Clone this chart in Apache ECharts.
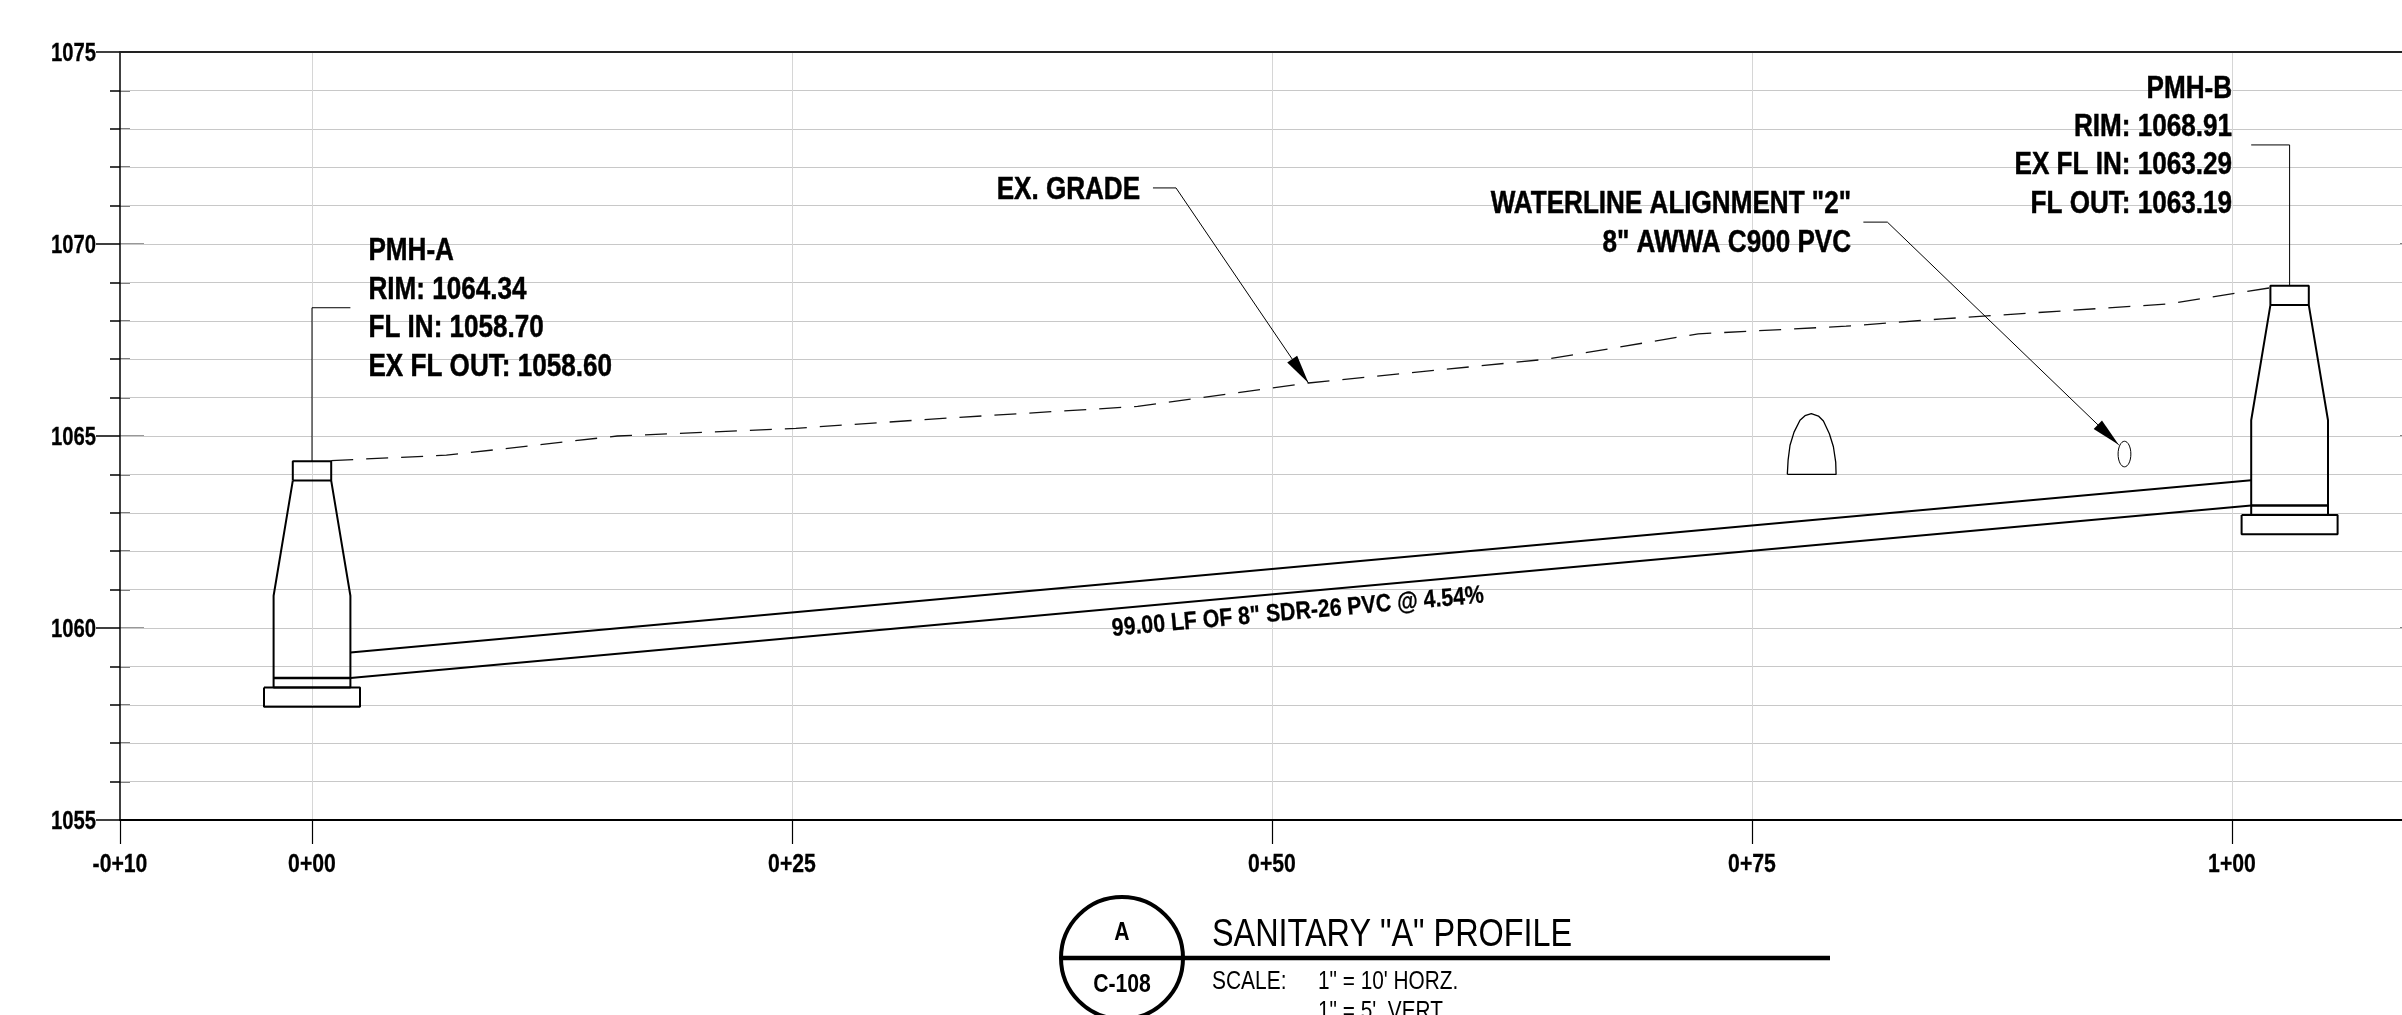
<!DOCTYPE html>
<html><head><meta charset="utf-8">
<style>html,body{margin:0;padding:0;background:#fff;overflow:hidden}#c{width:2402px;height:1015px}</style>
<script src="https://cdn.jsdelivr.net/npm/echarts@6/dist/echarts.min.js"></script>
</head><body><div id="c"></div>
<script>
// Axis values
var stationTicks = [-10, 0, 25, 50, 75, 100];
var stationLabels = ['-0+10', '0+00', '0+25', '0+50', '0+75', '1+00'];
var stationGrid = [0, 25, 50, 75, 100];
var elevationLabels = [1055, 1060, 1065, 1070, 1075];

// Existing grade (station, elevation)
var exGrade = [[1,1064.36],[7,1064.5],[15.9,1065.0],[25.2,1065.2],[33.2,1065.47],[43,1065.77],[51.9,1066.38],[64.3,1067.0],[72.2,1067.66],[79.9,1067.86],[84.9,1068.05],[96.7,1068.44],[102,1068.86]];
// Sewer pipe
var pipeCrown = [[2,1059.36],[101,1063.85]];
var pipeInvert = [[2,1058.7],[101,1063.19]];
// Manhole A
var mhAFrame = [[-1,1063.84],[-1,1064.34],[1,1064.34],[1,1063.84],[-1,1063.84]];
var mhABody = [[-1,1063.84],[-2,1060.84],[-2,1058.45],[2,1058.45],[2,1060.84],[1,1063.84]];
var mhAFlow = [[-2,1058.7],[2,1058.7]];
var mhABase = [[-2.5,1058.45],[2.5,1058.45],[2.5,1057.95],[-2.5,1057.95],[-2.5,1058.45]];
// Manhole B
var mhBFrame = [[102,1068.41],[102,1068.91],[104,1068.91],[104,1068.41],[102,1068.41]];
var mhBBody = [[102,1068.41],[101,1065.41],[101,1062.94],[105,1062.94],[105,1065.41],[104,1068.41]];
var mhBFlow = [[101,1063.19],[105,1063.19]];
var mhBBase = [[100.5,1062.94],[105.5,1062.94],[105.5,1062.44],[100.5,1062.44],[100.5,1062.94]];
// Crossing storm arch
var archShape = [[76.84,1064.0],[76.88,1064.37],[76.98,1064.76],[77.19,1065.1],[77.5,1065.41],[77.76,1065.53],[78.09,1065.58],[78.46,1065.52],[78.72,1065.39],[79.03,1065.06],[79.24,1064.72],[79.36,1064.32],[79.38,1064.0],[76.84,1064.0]];
// Waterline crossing: station, elevation, radius in feet
var waterline = [[94.4,1064.53,0.333]];
// Leaders
var leaderA = [[0,1064.34],[0,1068.34],[2,1068.34]];
var leaderB = [[103,1068.91],[103,1072.58],[101,1072.58]];
var leaderGrade = [[43.8,1071.46],[45,1071.46],[51.9,1066.38]];
var leaderWater = [[80.8,1070.57],[82.05,1070.57],[94.1,1064.77]];
// Arrow heads: tip station, tip elevation, from station, from elevation
var arrows = [[51.9,1066.38,45,1071.46],[94.1,1064.77,82.05,1070.57]];
// Notes: station, elevation, text, align
var notes = [
  [2.94,1068.34,'PMH-A\nRIM: 1064.34\nFL IN: 1058.70\nEX FL OUT: 1058.60','left'],
  [100,1072.58,'PMH-B\nRIM: 1068.91\nEX FL IN: 1063.29\nFL OUT: 1063.19','right'],
  [43.13,1071.44,'EX. GRADE','right'],
  [80.16,1070.57,'WATERLINE ALIGNMENT "2"\n8" AWWA C900 PVC','right']
];
// Blank areas behind notes: from station, top elevation, to station, bottom elevation
var noteMasks = [[2.4,1070.3,16.15,1066.5],[88.33,1074.72,100.6,1070.47],[35.29,1072.2,43.75,1070.8],[60.86,1071.69,80.78,1069.45]];
var pipeNote = [[51.35,1060.41,'99.00 LF OF 8" SDR-26 PVC @ 4.54%']];

var FONT = '"Liberation Sans",Arial,sans-serif';
var chart = echarts.init(document.getElementById('c'), null, {renderer:'canvas'});

function lineS(data, w, extra){
  return Object.assign({type:'line',data:data,showSymbol:false,symbol:'none',silent:true,animation:false,z:4,
    lineStyle:{color:'#000',width:w}},extra||{});
}
var hide = {show:false};
var option = {
  animation:false,
  backgroundColor:'#fff',
  grid:{left:120,top:52,width:2304,height:768,containLabel:false,outerBoundsMode:'none'},
  xAxis:[
    {type:'value',min:-10,max:110,interval:5,position:'bottom',z:3,
     axisLine:{onZero:false,lineStyle:{color:'#000',width:2}},
     axisTick:{show:true,length:24,customValues:stationTicks,lineStyle:{color:'#000',width:1.2}},
     axisLabel:hide,
     splitLine:{show:false}},
    {type:'value',min:-10,max:110,interval:5,position:'bottom',z:1,
     axisLine:{show:false,onZero:false},
     axisTick:{show:true,inside:true,length:25,customValues:stationGrid,lineStyle:{color:'#555',width:1}},
     axisLabel:hide,splitLine:hide},
    {type:'value',min:-10,max:110,interval:5,position:'top',z:3,
     axisLine:{show:true,onZero:false,lineStyle:{color:'#222',width:2}},
     axisTick:{show:false,customValues:stationGrid},axisLabel:hide,
     splitLine:{show:true,lineStyle:{color:'#d6d6d6',width:1}}}
  ],
  yAxis:[
    {type:'value',min:1055,max:1075,interval:5,position:'left',z:2,
     axisLine:{show:true,onZero:false,lineStyle:{color:'#000',width:1.5}},
     axisTick:{show:true,length:24,lineStyle:{color:'#000',width:1.5}},
     minorTick:{show:true,splitNumber:5,length:10,lineStyle:{color:'#000',width:1.5}},
     axisLabel:hide,
     splitLine:{show:true,lineStyle:{color:'#c8c8c8',width:1.2}},
     minorSplitLine:{show:true,lineStyle:{color:'#c8c8c8',width:1.2}}},
    {type:'value',min:1055,max:1075,interval:5,position:'left',z:1,
     axisLine:{show:false,onZero:false},
     axisTick:{show:true,inside:true,length:24,lineStyle:{color:'#777',width:1.5}},
     minorTick:{show:true,splitNumber:5,length:10,lineStyle:{color:'#555',width:1.5}},
     axisLabel:hide,splitLine:hide},
    {type:'value',min:1055,max:1075,interval:5,position:'right',z:1,
     axisLine:{show:false,onZero:false},
     axisTick:{show:true,inside:true,length:24,lineStyle:{color:'#555',width:1.5}},
     axisLabel:hide,splitLine:hide}
  ],
  series:[
    {type:'custom',silent:true,z:1,data:noteMasks,coordinateSystem:'cartesian2d',encode:{x:[0,2],y:[1,3]},
     renderItem:function(p,api){
       var a=api.coord([api.value(0),api.value(1)]),b=api.coord([api.value(2),api.value(3)]);
       return {type:'rect',shape:{x:a[0],y:a[1],width:b[0]-a[0],height:b[1]-a[1]},style:{fill:'#fff'}};
     }},
    lineS(exGrade,1.2,{lineStyle:{color:'#111',width:1.3,type:[22,13]}}),
    lineS(pipeCrown,2),lineS(pipeInvert,2),
    lineS(mhAFrame,2),lineS(mhABody,2),lineS(mhAFlow,2.5),lineS(mhABase,2),
    lineS(mhBFrame,2),lineS(mhBBody,2),lineS(mhBFlow,2.5),lineS(mhBBase,2),
    lineS(archShape,1.3),
    lineS(leaderA,1),lineS(leaderB,1),lineS(leaderGrade,1),lineS(leaderWater,1),
    {type:'custom',silent:true,z:5,data:waterline,encode:{x:0,y:1},
     renderItem:function(p,api){
       var c=api.coord([api.value(0),api.value(1)]),r=api.size([api.value(2),api.value(2)]);
       return {type:'ellipse',shape:{cx:c[0],cy:c[1],rx:r[0],ry:r[1]},style:{fill:'#fff',stroke:'#000',lineWidth:1}};
     }},
    {type:'custom',silent:true,z:5,data:arrows,encode:{x:0,y:1},
     renderItem:function(p,api){
       var t=api.coord([api.value(0),api.value(1)]),f=api.coord([api.value(2),api.value(3)]);
       var dx=f[0]-t[0],dy=f[1]-t[1],L=Math.sqrt(dx*dx+dy*dy);dx/=L;dy/=L;
       var bx=t[0]+dx*29,by=t[1]+dy*29;
       return {type:'polygon',shape:{points:[t,[bx-dy*6,by+dx*6],[bx+dy*6,by-dx*6]]},style:{fill:'#000'}};
     }},
    {type:'custom',silent:true,z:6,data:notes.map(function(n){return [n[0],n[1]];}),encode:{x:0,y:1},
     renderItem:function(p,api){
       var n=notes[p.dataIndex],c=api.coord([n[0],n[1]]);
       return {type:'text',x:c[0],y:c[1]+1.5,scaleX:0.815,style:{text:n[2],align:n[3],verticalAlign:'middle',lineHeight:38.4,
         fontFamily:FONT,fontWeight:'bold',fontSize:32,fill:'#000',stroke:'#000',lineWidth:0.5}};
     }},
    {type:'custom',silent:true,z:6,data:pipeNote.map(function(n){return [n[0],n[1]];}),encode:{x:0,y:1},
     renderItem:function(p,api){
       var n=pipeNote[p.dataIndex],c=api.coord([n[0],n[1]]);
       return {type:'text',x:c[0],y:c[1],rotation:5.15*Math.PI/180,scaleX:0.853,style:{text:n[2],align:'center',verticalAlign:'middle',
         fontFamily:FONT,fontWeight:'bold',fontSize:25,fill:'#000',stroke:'#000',lineWidth:0.3}};
     }},
    // Elevation tick labels
    {type:'custom',silent:true,z:6,data:elevationLabels.map(function(v){return [-10,v];}),encode:{x:0,y:1},
     renderItem:function(p,api){
       var c=api.coord([api.value(0),api.value(1)]);
       return {type:'text',x:c[0]-24,y:c[1]+1.5,scaleX:0.765,style:{text:String(elevationLabels[p.dataIndex]),align:'right',verticalAlign:'middle',
         fontFamily:FONT,fontWeight:'bold',fontSize:26.5,fill:'#000',stroke:'#000',lineWidth:0.3}};
     }},
    // Station tick labels
    {type:'custom',silent:true,z:6,data:stationTicks.map(function(v){return [v,1055];}),encode:{x:0,y:1},
     renderItem:function(p,api){
       var c=api.coord([api.value(0),api.value(1)]);
       return {type:'text',x:c[0],y:c[1]+45,scaleX:0.8,style:{text:stationLabels[p.dataIndex],align:'center',verticalAlign:'middle',
         fontFamily:FONT,fontWeight:'bold',fontSize:26.5,fill:'#000',stroke:'#000',lineWidth:0.3}};
     }}
  ],
  graphic:{elements:[
    {type:'line',silent:true,z:10,shape:{x1:1060,y1:958,x2:1830,y2:958},style:{stroke:'#000',lineWidth:4.7}},
    {type:'circle',silent:true,z:10,shape:{cx:1122,cy:958,r:61},style:{fill:'none',stroke:'#000',lineWidth:4}},
    {type:'text',silent:true,z:10,x:1122,y:933,scaleX:0.8,style:{text:'A',align:'center',verticalAlign:'middle',fontFamily:FONT,fontWeight:'bold',fontSize:26.5,fill:'#000'}},
    {type:'text',silent:true,z:10,x:1122,y:985,scaleX:0.8,style:{text:'C-108',align:'center',verticalAlign:'middle',fontFamily:FONT,fontWeight:'bold',fontSize:26.5,fill:'#000'}},
    {type:'text',silent:true,z:10,x:1212,y:935,scaleX:0.82,style:{text:'SANITARY "A" PROFILE',align:'left',verticalAlign:'middle',fontFamily:FONT,fontSize:39.5,fill:'#000'}},
    {type:'text',silent:true,z:10,x:1212,y:981.5,scaleX:0.79,style:{text:'SCALE:',align:'left',verticalAlign:'middle',fontFamily:FONT,fontSize:26.5,fill:'#000'}},
    {type:'text',silent:true,z:10,x:1318,y:981.5,scaleX:0.785,style:{text:'1" = 10\' HORZ.',align:'left',verticalAlign:'middle',fontFamily:FONT,fontSize:26.5,fill:'#000'}},
    {type:'text',silent:true,z:10,x:1318,y:1012,scaleX:0.785,style:{text:'1" = 5\'  VERT',align:'left',verticalAlign:'middle',fontFamily:FONT,fontSize:26.5,fill:'#000'}}
  ]}
};
chart.setOption(option);
</script></body></html>
